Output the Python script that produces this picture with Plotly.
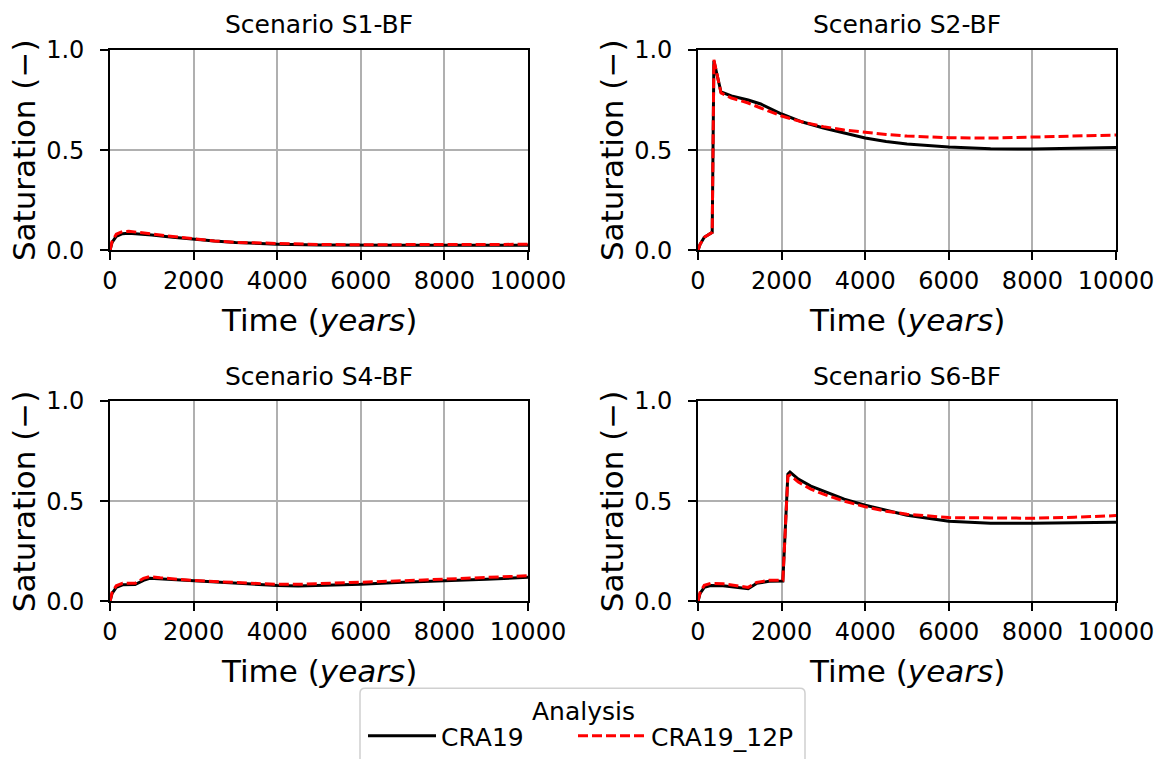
import plotly.graph_objects as go
from plotly.subplots import make_subplots

titles = ["Scenario S1-BF", "Scenario S2-BF", "Scenario S4-BF", "Scenario S6-BF"]
series_names = ["CRA19", "CRA19_12P"]
legend_title = "Analysis"
x_ticks = [0, 2000, 4000, 6000, 8000, 10000]
y_ticks = [0.0, 0.5, 1.0]

# S1
s1_t_a = [0, 50, 150, 300, 450, 700, 1000, 1500, 2000, 2500, 3000, 4000, 5000, 6000, 7000, 8000, 9000, 10000]
s1_a = [0.0, 0.04, 0.07, 0.083, 0.085, 0.082, 0.076, 0.065, 0.054, 0.046, 0.039, 0.031, 0.027, 0.025, 0.025, 0.025, 0.025, 0.026]
s1_t_b = [0, 50, 150, 300, 450, 700, 1000, 1500, 2000, 2500, 3000, 4000, 5000, 6000, 7000, 8000, 9000, 10000]
s1_b = [0.0, 0.045, 0.08, 0.094, 0.095, 0.09, 0.082, 0.069, 0.057, 0.047, 0.04, 0.033, 0.029, 0.028, 0.028, 0.028, 0.029, 0.03]

# S2
s2_t_a = [0, 50, 150, 250, 340, 380, 550, 800, 1200, 1500, 2000, 2500, 3000, 3500, 4000, 4500, 5000, 6000, 7000, 8000, 9000, 10000]
s2_a = [0.0, 0.03, 0.065, 0.08, 0.09, 0.945, 0.79, 0.77, 0.75, 0.73, 0.68, 0.64, 0.61, 0.585, 0.56, 0.543, 0.53, 0.515, 0.507, 0.505, 0.508, 0.513]
s2_t_b = [0, 50, 150, 250, 340, 380, 550, 800, 1200, 1500, 2000, 2500, 3000, 3500, 4000, 4500, 5000, 6000, 7000, 8000, 9000, 10000]
s2_b = [0.0, 0.03, 0.065, 0.08, 0.09, 0.95, 0.785, 0.76, 0.735, 0.71, 0.67, 0.64, 0.617, 0.6, 0.588, 0.578, 0.57, 0.562, 0.56, 0.565, 0.57, 0.575]

# S4
s4_t_a = [0, 50, 150, 300, 600, 800, 950, 1200, 2000, 3000, 4000, 4500, 5000, 6000, 7000, 8000, 9000, 10000]
s4_a = [0.0, 0.04, 0.07, 0.083, 0.084, 0.105, 0.115, 0.112, 0.1, 0.088, 0.079, 0.077, 0.079, 0.085, 0.095, 0.102, 0.11, 0.12]
s4_t_b = [0, 50, 150, 300, 600, 800, 950, 1200, 2000, 3000, 4000, 4500, 5000, 6000, 7000, 8000, 9000, 10000]
s4_b = [0.0, 0.045, 0.078, 0.09, 0.09, 0.115, 0.124, 0.118, 0.104, 0.093, 0.085, 0.085, 0.088, 0.094, 0.103, 0.111, 0.12, 0.128]

# S6
s6_t_a = [0, 50, 150, 300, 600, 900, 1200, 1400, 1700, 2030, 2150, 2200, 2400, 2700, 3000, 3500, 4000, 4500, 5000, 6000, 7000, 8000, 9000, 10000]
s6_a = [0.0, 0.04, 0.07, 0.079, 0.078, 0.072, 0.063, 0.09, 0.1, 0.102, 0.635, 0.645, 0.61, 0.575, 0.55, 0.51, 0.48, 0.455, 0.43, 0.4, 0.39, 0.39, 0.392, 0.395]
s6_t_b = [0, 50, 150, 300, 600, 900, 1200, 1400, 1700, 2030, 2150, 2200, 2400, 2700, 3000, 3500, 4000, 4500, 5000, 6000, 7000, 8000, 9000, 10000]
s6_b = [0.0, 0.045, 0.08, 0.09, 0.088, 0.08, 0.07, 0.095, 0.105, 0.105, 0.625, 0.63, 0.595, 0.56, 0.535, 0.5, 0.472, 0.45, 0.435, 0.418, 0.415, 0.415, 0.42, 0.428]

panels = [
    (s1_t_a, s1_a, s1_t_b, s1_b),
    (s2_t_a, s2_a, s2_t_b, s2_b),
    (s4_t_a, s4_a, s4_t_b, s4_b),
    (s6_t_a, s6_a, s6_t_b, s6_b),
]

W, H = 1160, 759
FONT = "DejaVu Sans"
TICK_SIZE = 24
LABEL_SIZE = 31
TITLE_SIZE = 25
LEGEND_SIZE = 25

fig = make_subplots(rows=2, cols=2)

xpix = [(110, 528), (698, 1116)]
ypix = [(50, 251), (402, 603)]
xdoms = [(a / W, b / W) for a, b in xpix]
ydoms = [(1 - b / H, 1 - a / H) for a, b in ypix]


def px(xp):
    return xp / W


def py(yp):
    return 1 - yp / H


for i, (ta, a, tb, b) in enumerate(panels):
    r, c = i // 2 + 1, i % 2 + 1
    fig.add_trace(go.Scatter(x=ta, y=a, mode="lines", name=series_names[0],
                             line=dict(color="black", width=3), legend="legend",
                             showlegend=(i == 0), legendgroup="a"), row=r, col=c)
    fig.add_trace(go.Scatter(x=tb, y=b, mode="lines", name=series_names[1],
                             line=dict(color="red", width=3, dash="10px,4px"), legend="legend2",
                             showlegend=(i == 0), legendgroup="b"), row=r, col=c)

for i in range(4):
    r, c = i // 2, i % 2
    xa = "xaxis" if i == 0 else f"xaxis{i+1}"
    ya = "yaxis" if i == 0 else f"yaxis{i+1}"
    fig.layout[xa].update(
        domain=xdoms[c], range=[0, 10000], tickvals=x_ticks,
        ticktext=[str(v) for v in x_ticks], automargin=False,
        showline=True, linecolor="black", linewidth=1.6, mirror=True,
        ticks="outside", ticklen=8, tickwidth=1.5, tickcolor="black",
        showgrid=True, gridcolor="#b0b0b0", gridwidth=1.6, zeroline=False,
        tickfont=dict(family=FONT, size=TICK_SIZE, color="black"),
    )
    fig.layout[ya].update(
        domain=ydoms[r], range=[0, 1], tickvals=y_ticks,
        ticktext=[f"{v:.1f}" for v in y_ticks], automargin=False,
        showline=True, linecolor="black", linewidth=1.6, mirror=True,
        ticks="outside", ticklen=8, tickwidth=1.5, tickcolor="black",
        ticklabelposition="outside", ticklabelstandoff=11,
        showgrid=True, gridcolor="#b0b0b0", gridwidth=1.6, zeroline=False,
        tickfont=dict(family=FONT, size=TICK_SIZE, color="black"),
    )
    x0, x1 = xpix[c]
    y0, y1 = ypix[r]
    fig.add_annotation(text=titles[i], xref="paper", yref="paper",
                       x=px((x0 + x1) / 2), y=py(y0 - 25),
                       xanchor="center", yanchor="middle", showarrow=False,
                       font=dict(family=FONT, size=TITLE_SIZE, color="black"))
    fig.add_annotation(text="Time (<i>years</i>)", xref="paper", yref="paper",
                       x=px((x0 + x1) / 2), y=py(y1 + 70),
                       xanchor="center", yanchor="middle", showarrow=False,
                       font=dict(family=FONT, size=LABEL_SIZE, color="black"))
    fig.add_annotation(text="Saturation (−)", xref="paper", yref="paper",
                       x=px(x0 - 86), y=py((y0 + y1) / 2), textangle=-90,
                       xanchor="center", yanchor="middle", showarrow=False,
                       font=dict(family=FONT, size=LABEL_SIZE, color="black"))

# legend frame (rounded box, cut at the bottom like the reference) and its title
bx0, bx1, by0, by1, rad = 360, 805, 690, 790, 5
path = (
    f"M {px(bx0 + rad)} {py(by0)} L {px(bx1 - rad)} {py(by0)} "
    f"Q {px(bx1)} {py(by0)} {px(bx1)} {py(by0 + rad)} L {px(bx1)} {py(by1)} "
    f"L {px(bx0)} {py(by1)} L {px(bx0)} {py(by0 + rad)} "
    f"Q {px(bx0)} {py(by0)} {px(bx0 + rad)} {py(by0)} Z"
)
fig.add_shape(type="path", path=path, xref="paper", yref="paper",
              line=dict(color="#d0d0d0", width=1.5), fillcolor="white", layer="below")
fig.add_annotation(text=legend_title, xref="paper", yref="paper",
                   x=px(583), y=py(713), xanchor="center", yanchor="middle",
                   showarrow=False, font=dict(family=FONT, size=LEGEND_SIZE, color="black"))

legend_common = dict(
    orientation="h", xanchor="left", yanchor="middle", y=py(738),
    font=dict(family=FONT, size=LEGEND_SIZE, color="black"),
    borderwidth=0, bgcolor="rgba(0,0,0,0)", itemwidth=68,
)

fig.update_layout(
    width=W, height=H,
    margin=dict(l=0, r=0, t=0, b=0),
    paper_bgcolor="white", plot_bgcolor="white",
    font=dict(family=FONT, color="black"),
    legend=dict(x=px(363), **legend_common),
    legend2=dict(x=px(573), **legend_common),
)

fig.write_html("out.html")
